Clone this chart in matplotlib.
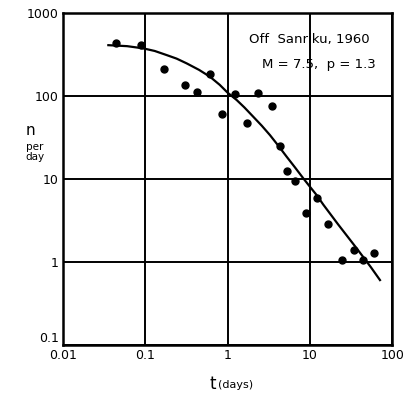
import matplotlib
matplotlib.use("Agg")
import matplotlib.pyplot as plt

t_obs = [0.044, 0.088, 0.169, 0.30, 0.43, 0.61, 0.85, 1.23, 1.73, 2.37, 3.43,
         4.32, 5.2, 6.56, 8.9, 12.2, 16.6, 24.4, 34.1, 43.8, 60.7]
n_obs = [435, 415, 213, 135, 112, 186, 61, 107, 48, 110, 77,
         24.8, 12.5, 9.6, 3.9, 5.9, 2.9, 1.05, 1.41, 1.07, 1.28]

# fitted curve (modified Omori, p = 1.3)
t_fit = [0.0355, 0.06, 0.0946, 0.13, 0.182, 0.24, 0.318, 0.45, 0.611, 0.8,
         1.0, 1.29, 1.6, 2.05, 2.6, 3.27, 4.1, 5.22, 6.6, 8.32, 10.0,
         12.1, 14.6, 22.0, 37.1, 55.0, 71.1]
n_fit = [411, 400, 376, 350, 312, 283, 248, 207, 171, 137,
         110, 89.6, 73, 56.4, 44, 33.9, 25.5, 18.6, 13.8, 10.2, 8.1,
         6.4, 4.9, 2.85, 1.46, 0.87, 0.607]

x_ticks = [0.01, 0.1, 1, 10, 100]
x_labels = ["0.01", "0.1", "1", "10", "100"]
y_ticks = [0.1, 1, 10, 100, 1000]
y_labels = ["0.1", "1", "10", "100", "1000"]

plt.rcParams["font.family"] = ["DejaVu Sans"]

fig = plt.figure(figsize=(4.15, 3.98), dpi=100)
ax = fig.add_axes([0.152, 0.133, 0.793, 0.834])

ax.set_xscale("log")
ax.set_yscale("log")
ax.set_xlim(0.01, 100)
ax.set_ylim(0.1, 1000)

ax.plot(t_fit, n_fit, color="black", linewidth=1.6, zorder=3)
ax.plot(t_obs, n_obs, "o", color="black", markersize=5, zorder=4)

ax.set_xticks(x_ticks)
ax.set_xticklabels(x_labels)
ax.set_yticks(y_ticks)
ax.set_yticklabels(y_labels)
ax.minorticks_off()
ax.tick_params(length=0, labelsize=9, pad=3)
ax.get_yticklabels()[0].set_verticalalignment("bottom")
ax.grid(True, color="black", linewidth=1.4)
for s in ax.spines.values():
    s.set_linewidth(1.8)

ax.text(0.93, 0.92, "Off  Sanriku, 1960", transform=ax.transAxes,
        ha="right", va="center", fontsize=9.5)
ax.text(0.95, 0.845, "M = 7.5,  p = 1.3", transform=ax.transAxes,
        ha="right", va="center", fontsize=9.5)

# axis labels
fig.text(0.074, 0.672, "n", fontsize=11, ha="center", va="center")
fig.text(0.083, 0.618, "per\nday", fontsize=7.5, ha="center", va="center",
         linespacing=1.0)
fig.text(0.52, 0.035, "t", fontsize=12, ha="right", va="center")
fig.text(0.525, 0.033, "(days)", fontsize=8, ha="left", va="center")

fig.savefig("out.png", dpi=100)
